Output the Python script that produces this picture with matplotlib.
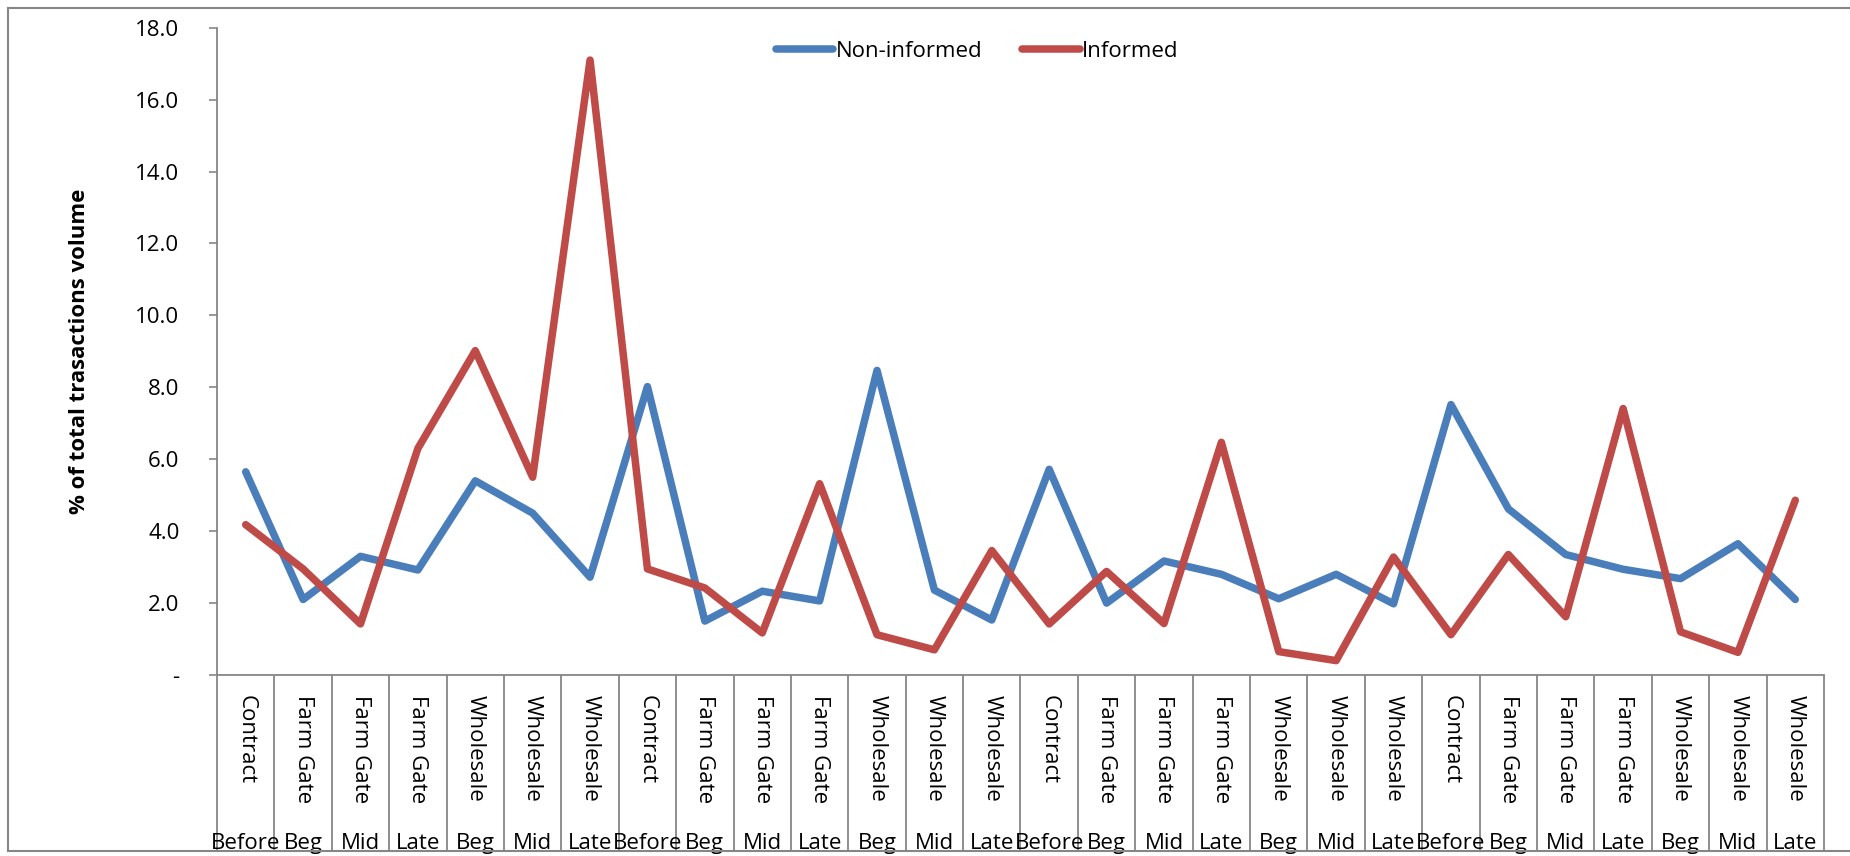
import matplotlib
matplotlib.use("Agg")
import matplotlib.pyplot as plt
from matplotlib.lines import Line2D

plt.rcParams['font.family'] = ['Open Sans', 'DejaVu Sans']

# channel (upper label) and timing (lower label) for each point
channels = ['Contract', 'Farm Gate', 'Farm Gate', 'Farm Gate', 'Wholesale', 'Wholesale', 'Wholesale'] * 4
timing = ['Before', 'Beg', 'Mid', 'Late', 'Beg', 'Mid', 'Late'] * 4

non_informed = [5.65, 2.1, 3.3, 2.92, 5.4, 4.5, 2.72,
                8.02, 1.5, 2.33, 2.06, 8.47, 2.36, 1.53,
                5.72, 2.0, 3.17, 2.8, 2.12, 2.8, 1.98,
                7.52, 4.62, 3.35, 2.94, 2.68, 3.65, 2.1]
informed = [4.18, 2.95, 1.42, 6.3, 9.02, 5.5, 17.1,
            2.95, 2.42, 1.17, 5.32, 1.12, 0.7, 3.46,
            1.42, 2.88, 1.43, 6.47, 0.65, 0.4, 3.28,
            1.12, 3.35, 1.62, 7.41, 1.2, 0.63, 4.86]

yticks = [0, 2, 4, 6, 8, 10, 12, 14, 16, 18]

W, H = 1850, 856
fig = plt.figure(figsize=(W / 100, H / 100), dpi=100)
ax = fig.add_axes([217 / W, (H - 675) / H, (1824 - 217) / W, (675 - 27.7) / H])

x = list(range(len(channels)))
ax.plot(x, non_informed, color='#4A7EBB', lw=5.4, solid_capstyle='round',
        solid_joinstyle='round', label='Non-informed')
ax.plot(x, informed, color='#BE4B48', lw=5.4, solid_capstyle='round',
        solid_joinstyle='round', label='Informed')

ax.set_xlim(-0.5, len(x) - 0.5)
ax.set_ylim(0, 18)

grey = '#868686'
for s in ['top', 'right']:
    ax.spines[s].set_visible(False)
for s in ['left', 'bottom']:
    ax.spines[s].set_color(grey)
    ax.spines[s].set_linewidth(1.3)

ax.set_yticks(yticks)
ax.set_yticklabels(['-' if v == 0 else f'{v:.1f}' for v in yticks], fontsize=16)
ax.tick_params(axis='y', length=6, width=1.2, color=grey, pad=21)

# category boxes: long minor ticks at the boundaries
ax.set_xticks([])
ax.set_xticks([i - 0.5 for i in range(len(x) + 1)], minor=True)
ax.tick_params(axis='x', which='minor', length=127, width=1.3, color=grey,
               direction='out')

tr = ax.get_xaxis_transform()
for i in x:
    ax.text(i, -0.031, channels[i], transform=tr, rotation=270, ha='center',
            va='top', fontsize=16)
    ax.text(i, -0.269, timing[i], transform=tr, ha='center', va='baseline',
            fontsize=16)

ax.set_ylabel('% of total trasactions volume', fontsize=16, fontweight='bold')
ax.yaxis.set_label_coords(-0.079, 0.5)

ax.legend(loc='center', bbox_to_anchor=(0.473, 0.964), ncol=2, frameon=False,
          fontsize=16, handlelength=2.6, handletextpad=0.1, columnspacing=1.8,
          borderpad=0)

# outer chart border
bx0, by0, by1 = 8 / W, 5 / H, 1 - 8 / H
for xs, ys in [([bx0, bx0], [by0, by1]), ([bx0, 1.01], [by1, by1]),
               ([bx0, 1.01], [by0, by0])]:
    fig.add_artist(Line2D(xs, ys, color=grey, lw=1.5, transform=fig.transFigure))

fig.savefig('out.png', dpi=100)
